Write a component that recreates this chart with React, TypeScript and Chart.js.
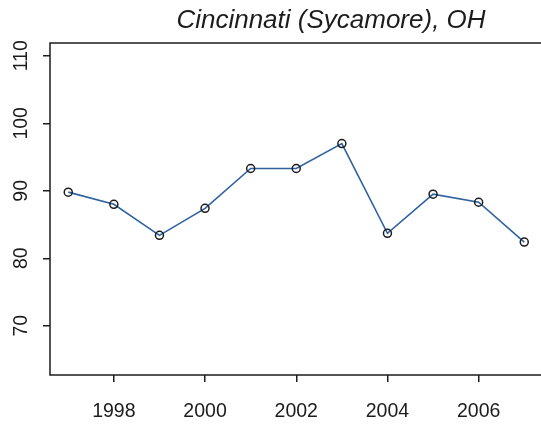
import React, { useEffect, useRef } from "react";
import { Chart, registerables } from "chart.js";

Chart.register(...registerables);

const TITLE = "Cincinnati (Sycamore), OH";
const years = [1997, 1998, 1999, 2000, 2001, 2002, 2003, 2004, 2005, 2006, 2007];
const values = [89.8, 88.0, 83.4, 87.4, 93.3, 93.3, 97.0, 83.7, 89.5, 88.3, 82.4];
const xTicks = [1998, 2000, 2002, 2004, 2006];
const yTicks = [70, 80, 90, 100, 110];
const X_MIN = 1996.6;
const X_MAX = 2007.4;
const Y_MIN = 62.7;
const Y_MAX = 111.9;

const FONT = '"Liberation Sans", Arial, Helvetica, sans-serif';
const INK = "#1c1c1c";

const framePlugin = {
  id: "rframe",
  afterDraw(chart: any) {
    const { ctx, chartArea } = chart;
    const ys = chart.scales.y;
    ctx.save();
    // box
    ctx.strokeStyle = INK;
    ctx.lineWidth = 1.5;
    ctx.strokeRect(chartArea.left, chartArea.top, chartArea.right - chartArea.left, chartArea.bottom - chartArea.top);
    // y tick labels, rotated
    ctx.fillStyle = INK;
    ctx.font = `19.5px ${FONT}`;
    ctx.textAlign = "center";
    ctx.textBaseline = "alphabetic";
    yTicks.forEach((v) => {
      const py = ys.getPixelForValue(v);
      ctx.save();
      ctx.translate(26.7, py);
      ctx.rotate(-Math.PI / 2);
      ctx.fillText(String(v), 0, 0);
      ctx.restore();
    });
    // title
    ctx.font = `italic 26px ${FONT}`;
    ctx.textAlign = "center";
    ctx.textBaseline = "alphabetic";
    ctx.fillText(TITLE, 331, 28);
    ctx.restore();
  },
};

export default function App() {
  const ref = useRef<HTMLCanvasElement | null>(null);
  useEffect(() => {
    if (!ref.current) return;
    const chart = new Chart(ref.current, {
      type: "line",
      data: {
        datasets: [
          {
            data: years.map((y, i) => ({ x: y, y: values[i] })),
            borderColor: "#2f62a0",
            borderWidth: 1.6,
            pointRadius: 4,
            pointBorderWidth: 1.5,
            pointBorderColor: INK,
            pointBackgroundColor: "rgba(255,255,255,0)",
            tension: 0,
          },
        ],
      },
      options: {
        animation: false,
        responsive: false,
        devicePixelRatio: 1,
        layout: { padding: { top: 43, right: 2, left: 0, bottom: 0 } },
        plugins: { legend: { display: false }, title: { display: false }, tooltip: { enabled: false } },
        scales: {
          x: {
            type: "linear",
            min: X_MIN,
            max: X_MAX,
            afterBuildTicks: (s: any) => {
              s.ticks = xTicks.map((v) => ({ value: v }));
            },
            afterFit: (s: any) => {
              s.height = 52;
            },
            border: { display: false },
            grid: { drawOnChartArea: false, drawTicks: true, tickLength: 7, color: INK, lineWidth: 1.5 },
            ticks: {
              color: INK,
              font: { family: FONT, size: 19.5 },
              padding: 18,
              maxRotation: 0,
              minRotation: 0,
              autoSkip: false,
              callback: (v: any) => String(v),
            },
          },
          y: {
            type: "linear",
            min: Y_MIN,
            max: Y_MAX,
            afterBuildTicks: (s: any) => {
              s.ticks = yTicks.map((v) => ({ value: v }));
            },
            afterFit: (s: any) => {
              s.width = 50;
            },
            border: { display: false },
            grid: { drawOnChartArea: false, drawTicks: true, tickLength: 7, color: INK, lineWidth: 1.5 },
            ticks: { display: false },
          },
        },
      },
      plugins: [framePlugin],
    });
    return () => chart.destroy();
  }, []);
  return (
    <div style={{ position: "fixed", left: 0, top: 0, width: 541, height: 427, overflow: "hidden", background: "#fff" }}>
      <canvas ref={ref} width={548} height={427} style={{ display: "block", width: 548, height: 427 }} />
    </div>
  );
}
